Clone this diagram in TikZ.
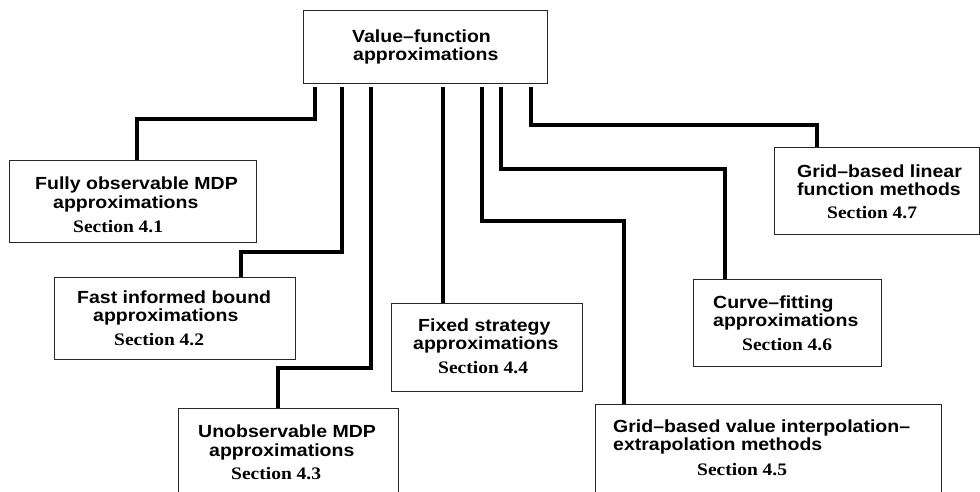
\documentclass[tikz,border=0pt]{standalone}
\usepackage{fontspec}
\setsansfont{Liberation Sans}
\setmainfont{Liberation Serif}
\tikzset{
  box/.style={draw=black!85, line width=1pt, fill=white, rectangle, inner sep=0pt, anchor=north west},
  conn/.style={line width=4.5pt, black, shorten <=3pt},
  lab/.style={anchor=base west, inner sep=0pt, font=\sffamily\bfseries\fontsize{19.5}{20}\selectfont},
  sec/.style={anchor=base west, inner sep=0pt, font=\rmfamily\bfseries\fontsize{19.5}{20}\selectfont},
}
\newcommand{\sq}[1]{\scalebox{1}[0.9]{#1}}
\begin{document}
\begin{tikzpicture}[x=1pt, y=-1pt]
\useasboundingbox (0,0) rectangle (980,491);
\clip (0,0) rectangle (980,491);
\fill[white] (0,0) rectangle (980,491);

% boxes
\node[box, minimum width=244pt, minimum height=73pt] (vf) at (303,10) {};
\node[box, minimum width=247pt, minimum height=82pt] (fo) at (9,160) {};
\node[box, minimum width=241pt, minimum height=82pt] (fib) at (54,277) {};
\node[box, minimum width=220pt, minimum height=110pt] (unobs) at (178,408) {};
\node[box, minimum width=191pt, minimum height=88pt] (fixed) at (391,303) {};
\node[box, minimum width=346pt, minimum height=110pt] (gv) at (595,404) {};
\node[box, minimum width=188pt, minimum height=87pt] (cf) at (693,279) {};
\node[box, minimum width=205pt, minimum height=87pt] (gl) at (774,147) {};

% connectors
\draw[conn] ([xshift=12pt]vf.south west) -- ++(0,35) -| ([xshift=128pt]fo.north west);
\draw[conn] ([xshift=39pt]vf.south west) -- ++(0,168) -| ([xshift=187pt]fib.north west);
\draw[conn] ([xshift=68pt]vf.south west) -- ++(0,284) -| ([xshift=100pt]unobs.north west);
\draw[conn] ([xshift=140pt]vf.south west) -- ([xshift=52pt]fixed.north west);
\draw[conn] ([xshift=179pt]vf.south west) -- ++(0,137) -| ([xshift=29pt]gv.north west);
\draw[conn] ([xshift=198pt]vf.south west) -- ++(0,85) -| ([xshift=32pt]cf.north west);
\draw[conn] ([xshift=228pt]vf.south west) -- ++(0,41) -| ([xshift=43pt]gl.north west);

% texts
\node[lab] (vf1) at (352,42) {\sq{Value–function}};
\node[lab] (vf2) at (353,60) {\sq{approximations}};

\node[lab] (fo1) at (35,189) {\sq{Fully observable MDP}};
\node[lab] (fo2) at (53,208) {\sq{approximations}};
\node[sec] (fo3) at (73,232) {\sq{Section 4.1}};

\node[lab] (fib1) at (77,303) {\sq{Fast informed bound}};
\node[lab] (fib2) at (93,321) {\sq{approximations}};
\node[sec] (fib3) at (114,345) {\sq{Section 4.2}};

\node[lab] (un1) at (198,437) {\sq{Unobservable MDP}};
\node[lab] (un2) at (209,456) {\sq{approximations}};
\node[sec] (un3) at (231,479) {\sq{Section 4.3}};

\node[lab] (fx1) at (418,331) {\sq{Fixed strategy}};
\node[lab] (fx2) at (413,349) {\sq{approximations}};
\node[sec] (fx3) at (438,373) {\sq{Section 4.4}};

\node[lab] (gv1) at (613,432) {\sq{Grid–based value interpolation–}};
\node[lab] (gv2) at (613,450) {\sq{extrapolation methods}};
\node[sec] (gv3) at (697,475) {\sq{Section 4.5}};

\node[lab] (cf1) at (713,308) {\sq{Curve–fitting}};
\node[lab] (cf2) at (713,326) {\sq{approximations}};
\node[sec] (cf3) at (742,350) {\sq{Section 4.6}};

\node[lab] (gl1) at (797,177) {\sq{Grid–based linear}};
\node[lab] (gl2) at (797,195) {\sq{function methods}};
\node[sec] (gl3) at (827,218) {\sq{Section 4.7}};
\end{tikzpicture}
\end{document}
